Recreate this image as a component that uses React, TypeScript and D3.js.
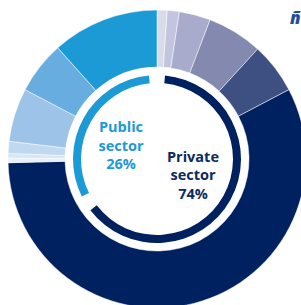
import React from 'react';
import * as d3 from 'd3';

// outer ring, clockwise from 12 o'clock: private sub-sectors then public sub-sectors (share in %)
const privateShares = [1.1, 1.3, 3.4, 6.0, 5.5, 57.3];
const publicShares = [0.5, 0.5, 1.3, 5.8, 5.7, 11.6];
const privateColors = ['#d9dbeb', '#c3c5de', '#a9abcc', '#8489b0', '#3e4f82', '#00215f'];
const publicColors = ['#e8f1fa', '#d6e6f6', '#c0d8f0', '#9dc3e8', '#68ade0', '#1b9ad6'];

// inner thin ring (share of the circle, as drawn)
const innerNames = ['Private', 'Public'];
const innerShares = [66.1, 33.9];
const innerColors = ['#00215f', '#1b9ad6'];

const labels = [
  { lines: ['Public', 'sector', '26%'], color: '#1b9ad6', x: 121, y: 132 },
  { lines: ['Private', 'sector', '74%'], color: '#0b2a5e', x: 193, y: 161.5 },
];

const W = 301;
const H = 305;

export default function App() {
  const cx = 157;
  const cy = 159;
  const R = 149;
  const r = 92;

  const outerData = [
    ...privateShares.map((v, i) => ({ v, c: privateColors[i] })),
    ...publicShares.map((v, i) => ({ v, c: publicColors[i] })),
  ];
  const pie = d3.pie<{ v: number; c: string }>().value(d => d.v).sort(null);
  const outerArcs = pie(outerData);
  const outerArc = d3.arc<d3.PieArcDatum<{ v: number; c: string }>>().innerRadius(r).outerRadius(R);

  const innerPie = d3.pie<number>().sort(null)(innerShares);
  const pad = (11 * Math.PI) / 180;
  const innerArc = d3.arc().innerRadius(76).outerRadius(84);

  return (
    <svg width={W} height={H} style={{ position: 'absolute', left: 0, top: 0, background: '#fff' }}>
      <g transform={`translate(${cx},${cy})`}>
        {outerArcs.map((a, i) => (
          <path key={i} d={outerArc(a) || ''} fill={a.data.c} stroke="#fff" strokeWidth={0.5} />
        ))}
        {innerPie.map((a, i) => (
          <path
            key={innerNames[i]}
            d={innerArc({ startAngle: a.startAngle + pad / 2, endAngle: a.endAngle - pad / 2, innerRadius: 76, outerRadius: 84 } as any) || ''}
            fill={innerColors[i]}
          />
        ))}
      </g>
      {labels.map(l => (
        <text key={l.lines[0]} textAnchor="middle" fill={l.color} fontFamily="'Open Sans', sans-serif" fontWeight={700} fontSize={14.5}>
          {l.lines.map((t, j) => (
            <tspan key={j} x={l.x} y={l.y + j * 18.6}>{t}</tspan>
          ))}
        </text>
      ))}
      <text x={290} y={24} fill="#1f4e9c" fontFamily="'Open Sans', sans-serif" fontWeight={800} fontStyle="italic" fontSize={17}>ñ</text>
    </svg>
  );
}
